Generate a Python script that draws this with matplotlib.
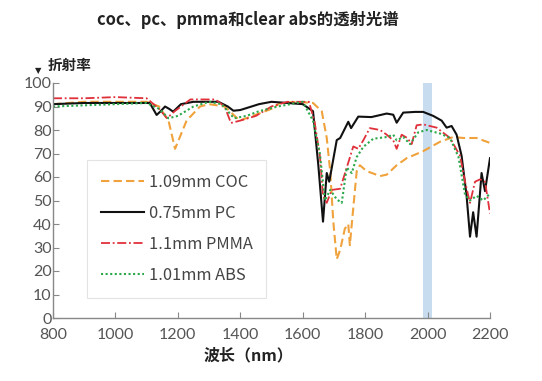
import matplotlib
matplotlib.use('Agg')
import matplotlib.pyplot as plt

plt.rcParams['font.family'] = ['Noto Sans CJK SC', 'DejaVu Sans']

# 1.09mm COC
coc_x = [800, 900, 1000, 1100, 1140, 1170, 1191, 1228, 1271, 1300, 1350, 1398, 1440, 1500, 1527,
         1580, 1633, 1661, 1677, 1688, 1698, 1709, 1720, 1735, 1746, 1751, 1760, 1773, 1783, 1805,
         1848, 1869, 1901, 1933, 1986, 2040, 2082, 2115, 2157, 2200]
coc_y = [91, 92, 92, 92, 90, 84, 72, 84, 90, 91, 90, 84, 86, 89, 91.5,
         92, 91.5, 88, 76.6, 62.5, 41, 25, 29, 38, 40, 31, 44, 62.5, 65, 62.5,
         60.4, 61, 65, 68, 71, 75, 77, 76.6, 76.6, 74.5]

# 0.75mm PC
pc_x = [800, 900, 1000, 1110, 1132, 1145, 1159, 1172, 1185, 1210, 1250, 1330, 1360, 1378, 1400,
        1460, 1500, 1600, 1633, 1650, 1665, 1677, 1685, 1709, 1720, 1746, 1755, 1778, 1820, 1869,
        1890, 1901, 1922, 1960, 1986, 2018, 2045, 2061, 2077, 2093, 2109, 2125, 2136, 2146, 2157,
        2173, 2184, 2200]
pc_y = [91, 91.5, 91.5, 91.5, 86.4, 88, 90, 89, 87.8, 91, 92, 92, 90, 88.2, 88.5,
        91, 92, 91, 88, 65, 41, 61.7, 58, 75.7, 76.6, 83.5, 80.8, 85.7, 85.5, 87,
        86.5, 83.1, 87.4, 87.7, 87.7, 86, 84, 81, 81.7, 78, 69, 52, 34.6, 45, 34.6,
        61.7, 54, 68]

# 1.1mm PMMA
pmma_x = [800, 900, 1000, 1100, 1140, 1165, 1190, 1240, 1320, 1350, 1370, 1400, 1450, 1500, 1550,
          1620, 1638, 1655, 1665, 1677, 1693, 1720, 1741, 1762, 1778, 1794, 1815, 1848, 1869, 1890,
          1901, 1917, 1935, 1949, 1965, 1986, 2029, 2072, 2104, 2120, 2136, 2152, 2168, 2184, 2200]
pmma_y = [93.5, 93.5, 94, 93.5, 89, 85, 88, 93, 93, 90, 83, 84, 86, 90, 92,
          92, 83.5, 69, 52, 49, 54.5, 55, 64, 73, 72, 75.6, 80.8, 80, 78, 75.6,
          72, 78, 76.6, 74, 82, 82.4, 81, 76.6, 69, 58, 49, 58, 59, 58, 44.5]

# 1.01mm ABS
abs_x = [800, 900, 1000, 1100, 1140, 1170, 1200, 1250, 1300, 1340, 1380, 1420, 1460, 1520, 1560,
         1600, 1633, 1655, 1671, 1688, 1709, 1725, 1741, 1757, 1773, 1794, 1826, 1869, 1890, 1901,
         1922, 1944, 1970, 1997, 2040, 2072, 2099, 2120, 2136, 2157, 2178, 2200]
abs_y = [90, 90.5, 91, 91.5, 89, 85, 86, 90, 92, 91, 85, 86, 88, 90, 91,
         92, 84, 70, 50, 54.5, 50.5, 49, 64, 61.7, 68.5, 72.8, 76.3, 77, 78, 75.6,
         77, 74, 79, 80, 78.5, 76.6, 68.5, 52.5, 50, 52, 50, 53]

legends = ['1.09mm COC', '0.75mm PC', '1.1mm PMMA', '1.01mm ABS']
band = (1985, 2015)

fig = plt.figure(figsize=(5.42, 3.81), dpi=100)
ax = fig.add_axes([53 / 542, 1 - 318 / 381, 437 / 542, 235 / 381])

ax.axvspan(band[0], band[1], color='#c8dcf0', zorder=0, lw=0)

ax.plot(coc_x, coc_y, color='#f0a23c', ls=(0, (4, 2)), lw=1.5, label=legends[0])
ax.plot(pc_x, pc_y, color='#111111', ls='-', lw=1.5, label=legends[1])
ax.plot(pmma_x, pmma_y, color='#e0303a', ls=(0, (5, 1.5, 1, 1.5)), lw=1.3, label=legends[2])
ax.plot(abs_x, abs_y, color='#2aa84a', ls=(0, (1, 1.2)), lw=1.5, label=legends[3])

ax.set_xlim(800, 2200)
ax.set_ylim(0, 100)
ax.set_xticks(range(800, 2201, 200))
ax.set_yticks(range(0, 101, 10))
for s in ['top', 'right']:
    ax.spines[s].set_visible(False)
for s in ['left', 'bottom']:
    ax.spines[s].set_color('#888888')
    ax.spines[s].set_linewidth(1)
ax.tick_params(direction='in', length=4, color='#888888', labelcolor='#555555', labelsize=11.5)
ax.tick_params(axis='y', pad=1)
ax.tick_params(axis='x', pad=7)
for lab in ax.get_xticklabels() + ax.get_yticklabels():
    lab.set_family(['Lato', 'DejaVu Sans'])

leg = ax.legend(loc='upper left', bbox_to_anchor=(0.078, 0.672), borderaxespad=0, fontsize=11.8,
                frameon=True, fancybox=False, edgecolor='#dddddd', handlelength=2.6,
                handletextpad=0.3, labelspacing=0.85, borderpad=0.85, labelcolor='#444444')
leg.get_frame().set_linewidth(0.8)

fig.text(248 / 542, 1 - 20 / 381, 'coc、pc、pmma和clear abs的透射光谱', ha='center', va='center',
         fontsize=11.8, fontweight='bold', color='#222222')
fig.text(38 / 542, 1 - 71 / 381, '▼', ha='center', va='center', fontsize=6, color='#222222',
         family=['DejaVu Sans'])
fig.text(48 / 542, 1 - 65 / 381, '折射率', ha='left', va='center', fontsize=10.5,
         fontweight='bold', color='#222222')
fig.text(248 / 542, 1 - 355 / 381, '波长（nm）', ha='center', va='center', fontsize=11.5,
         fontweight='bold', color='#222222')

fig.savefig('out.png', dpi=100)
